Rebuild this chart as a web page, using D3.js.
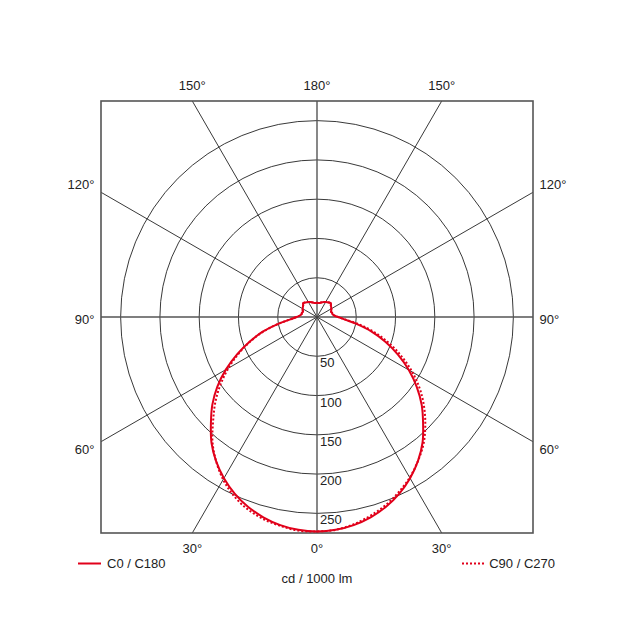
<!DOCTYPE html>
<html>
<head>
<meta charset="utf-8">
<script src="https://cdn.jsdelivr.net/npm/d3@7"></script>
<style>
    html, body { margin: 0; padding: 0; background: #fff; }
    svg { display: block; font-family: "Liberation Sans", Arial, sans-serif; }
</style>
</head>
<body>
<script>
// gamma angles (0 = nadir, 180 = zenith)
var gammaAngles = [0, 5, 10, 15, 20, 25, 30, 35, 40, 45, 50, 55, 60, 65, 70, 75, 80, 85, 90,
    95, 100, 105, 110, 115, 120, 125, 130, 135, 140, 145, 150, 155, 160, 165, 170, 175, 180];

// cd / 1000 lm
var c0 = [273, 272, 269, 264, 257, 248, 237, 224, 209, 191, 174, 155, 135, 114, 93, 72, 51, 35, 27,
    22, 20, 20, 19, 20, 21, 22, 23, 25, 24, 23, 22, 21, 20, 19, 18, 18, 18];
var c180 = [273, 272, 269, 264, 257, 248, 237, 224, 209, 191, 174, 155, 134, 112, 91, 71, 50, 34, 26,
    22, 20, 20, 19, 20, 21, 22, 23, 25, 24, 23, 22, 21, 20, 19, 18, 18, 18];
var c90 = [273, 272, 268, 262, 255, 246, 236, 224, 211, 195, 178, 160, 140, 119, 98, 76, 55, 36, 27,
    22, 20, 20, 19, 20, 21, 22, 23, 25, 24, 23, 22, 21, 20, 19, 18, 18, 18];
var c270 = [273, 273, 270, 266, 260, 251, 239, 224, 207, 187, 169, 150, 130, 110, 90, 70, 50, 34, 26,
    22, 20, 20, 19, 20, 21, 22, 23, 25, 24, 23, 22, 21, 20, 19, 18, 18, 18];

var ringValues = [50, 100, 150, 200, 250];
var spokeAngles = [0, 30, 60, 90, 120, 150, 180];
var legendLabels = ['C0 / C180', 'C90 / C270'];
var unitLabel = 'cd / 1000 lm';

window.POLAR = {
    init: function () {
        var self = this;

        // PROPERTIES
        self.width = 634;
        self.height = 634;
        self.cx = 317;
        self.cy = 317;
        self.half = 216;
        self.red = '#e1001a';

        // SCALES
        self.r = d3.scaleLinear().domain([0, 275]).range([0, self.half]);
        self.gamma = d3.scaleLinear().domain([0, 180]).range([0, Math.PI]);

        // SVG Setup
        self.svg = d3.select('body').append('svg')
            .attr('width', self.width)
            .attr('height', self.height);

        self.g = self.svg.append('g')
            .attr('transform', 'translate(' + self.cx + ',' + self.cy + ')');

        self.drawGrid();
        self.drawCurves();
        self.drawLabels();
        self.drawLegend();
    },
    drawGrid: function () {
        var self = this,
            h = self.half;

        self.svg.append('defs').append('clipPath').attr('id', 'frame-clip')
            .append('rect')
            .attr('x', -h).attr('y', -h)
            .attr('width', h * 2).attr('height', h * 2);

        var grid = self.g.append('g').attr('clip-path', 'url(#frame-clip)');

        grid.selectAll('circle.ring').data(ringValues).enter().append('circle')
            .attr('class', 'ring')
            .attr('r', function (d) { return self.r(d); })
            .attr('fill', 'none')
            .attr('stroke', '#222')
            .attr('stroke-width', 0.9);

        // spokes on both sides
        var spokes = [];
        spokeAngles.forEach(function (a) {
            spokes.push({ a: a, side: 1 });
            if (a !== 0 && a !== 180) spokes.push({ a: a, side: -1 });
        });
        self.spokes = spokes;

        grid.selectAll('line.spoke').data(spokes).enter().append('line')
            .attr('class', 'spoke')
            .attr('x1', 0).attr('y1', 0)
            .attr('x2', function (d) { return d.side * Math.sin(self.gamma(d.a)) * h * 2; })
            .attr('y2', function (d) { return Math.cos(self.gamma(d.a)) * h * 2; })
            .attr('stroke', function (d) { return d.a % 90 === 0 ? '#555' : '#222'; })
            .attr('stroke-width', function (d) { return d.a % 90 === 0 ? 1.4 : 0.9; });

        self.g.append('rect')
            .attr('x', -h).attr('y', -h)
            .attr('width', h * 2).attr('height', h * 2)
            .attr('fill', 'none')
            .attr('stroke', '#555')
            .attr('stroke-width', 1.6);
    },
    drawCurves: function () {
        var self = this,
            line;

        line = d3.lineRadial()
            .angle(function (d) { return d.angle; })
            .radius(function (d) { return self.r(d.value); })
            .curve(d3.curveCatmullRom);

        // left half goes zenith -> nadir, right half nadir -> zenith
        function build(leftVals, rightVals) {
            var pts = [], i;
            for (i = gammaAngles.length - 1; i >= 0; i--) {
                pts.push({ angle: Math.PI + self.gamma(gammaAngles[i]), value: leftVals[i] });
            }
            for (i = 1; i < gammaAngles.length; i++) {
                pts.push({ angle: Math.PI - self.gamma(gammaAngles[i]), value: rightVals[i] });
            }
            return pts;
        }

        self.g.append('path')
            .datum(build(c270, c90))
            .attr('d', line)
            .attr('fill', 'none')
            .attr('stroke', self.red)
            .attr('stroke-width', 2)
            .attr('stroke-dasharray', '2,2');

        self.g.append('path')
            .datum(build(c180, c0))
            .attr('d', line)
            .attr('fill', 'none')
            .attr('stroke', self.red)
            .attr('stroke-width', 2);
    },
    drawLabels: function () {
        var self = this,
            h = self.half;

        // ring values next to the nadir axis
        self.g.selectAll('text.ring').data(ringValues).enter().append('text')
            .attr('class', 'ring')
            .attr('x', 3)
            .attr('y', function (d) { return self.r(d) + 11; })
            .attr('font-size', 13)
            .attr('fill', '#222')
            .text(function (d) { return d; });

        // angle labels where the spokes leave the frame
        self.g.selectAll('text.angle').data(self.spokes).enter().append('text')
            .attr('class', 'angle')
            .each(function (d) {
                var sx = d.side * Math.sin(self.gamma(d.a)),
                    sy = Math.cos(self.gamma(d.a)),
                    t = h / Math.max(Math.abs(sx), Math.abs(sy)),
                    px = sx * t,
                    py = sy * t,
                    el = d3.select(this);

                if (Math.abs(sy) >= Math.abs(sx) - 1e-9) {
                    el.attr('text-anchor', 'middle')
                        .attr('x', px)
                        .attr('y', sy < 0 ? -h - 11 : h + 20);
                } else {
                    el.attr('text-anchor', d.side < 0 ? 'end' : 'start')
                        .attr('x', px + d.side * 6.5)
                        .attr('y', py + (d.a > 90 ? -3 : (d.a === 90 ? 7 : 12)));
                }
            })
            .attr('font-size', 13)
            .attr('fill', '#222')
            .text(function (d) { return d.a + '°'; });
    },
    drawLegend: function () {
        var self = this,
            legend = self.svg.append('g');

        legend.append('line')
            .attr('x1', 78).attr('x2', 101)
            .attr('y1', 563.5).attr('y2', 563.5)
            .attr('stroke', self.red)
            .attr('stroke-width', 2);

        legend.append('text')
            .attr('x', 107).attr('y', 568)
            .attr('font-size', 13)
            .attr('fill', '#222')
            .text(legendLabels[0]);

        legend.append('line')
            .attr('x1', 462).attr('x2', 484)
            .attr('y1', 563.5).attr('y2', 563.5)
            .attr('stroke', self.red)
            .attr('stroke-width', 2)
            .attr('stroke-dasharray', '2,2');

        legend.append('text')
            .attr('x', 555).attr('y', 568)
            .attr('text-anchor', 'end')
            .attr('font-size', 13)
            .attr('fill', '#222')
            .text(legendLabels[1]);

        legend.append('text')
            .attr('x', 317).attr('y', 583)
            .attr('text-anchor', 'middle')
            .attr('font-size', 13)
            .attr('fill', '#222')
            .text(unitLabel);
    }
};

POLAR.init();
</script>
</body>
</html>
